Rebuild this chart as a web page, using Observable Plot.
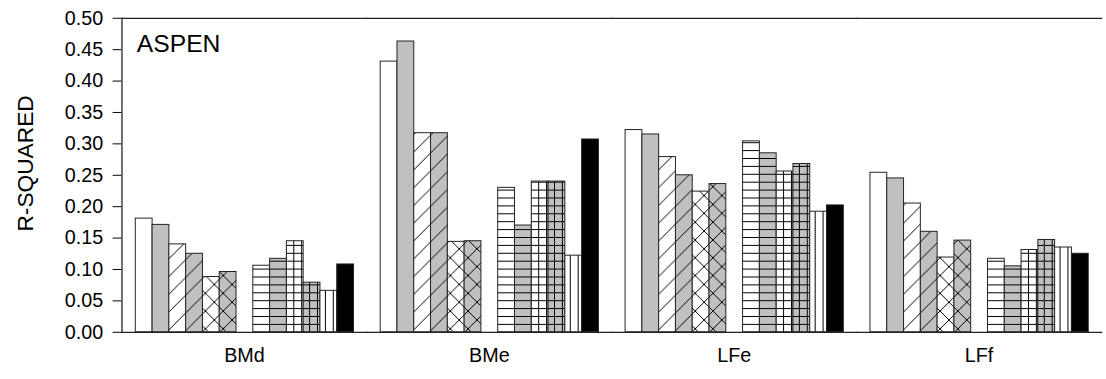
<!DOCTYPE html>
<html><head><meta charset="utf-8">
<script src="https://cdn.jsdelivr.net/npm/d3@7"></script>
<script src="https://cdn.jsdelivr.net/npm/@observablehq/plot@0.6"></script>
<style>
html,body{margin:0;padding:0;overflow:hidden;background:#fff;}
</style>
</head><body><div id="chart"></div>
<script>
// ---- data ----
const groups = ["BMd", "BMe", "LFe", "LFf"];
const series = ["s1","s2","s3","s4","s5","s6","s7","s8","s9","s10","s11","s12"];
const slots = ["s1","s2","s3","s4","s5","s6","gap","s7","s8","s9","s10","s11","s12"];
const BMd = [0.181, 0.171, 0.140, 0.125, 0.088, 0.096, 0.106, 0.117, 0.145, 0.079, 0.066, 0.108];
const BMe = [0.431, 0.463, 0.317, 0.317, 0.144, 0.145, 0.230, 0.170, 0.240, 0.240, 0.122, 0.307];
const LFe = [0.322, 0.315, 0.279, 0.250, 0.224, 0.236, 0.304, 0.285, 0.256, 0.268, 0.192, 0.202];
const LFf = [0.254, 0.245, 0.205, 0.160, 0.119, 0.146, 0.117, 0.105, 0.131, 0.147, 0.135, 0.125];
const yTicks = [0, 0.05, 0.10, 0.15, 0.20, 0.25, 0.30, 0.35, 0.40, 0.45, 0.50];
const panelTitle = ["ASPEN"];
const yLabel = ["R-SQUARED"];
// fills per series (style)
const seriesFill = ["white", "#c0c0c0", "url(#diagW)", "url(#diagG)", "url(#crossW)", "url(#crossG)",
  "url(#horizW)", "url(#horizG)", "url(#gridW)", "url(#gridG)", "url(#vertW)", "black"];

const valuesByGroup = {BMd, BMe, LFe, LFf};
const data = [];
for (const g of groups) {
  valuesByGroup[g].forEach((v, i) => data.push({group: g, series: series[i], value: v, fill: seriesFill[i]}));
}

// ---- pattern definitions ----
function patternDefs() {
  const defs = d3.create("svg:defs");
  const mk = (id, size, bg) => {
    const p = defs.append("pattern").attr("id", id).attr("patternUnits", "userSpaceOnUse")
      .attr("width", size).attr("height", size);
    p.append("rect").attr("width", size).attr("height", size).attr("fill", bg);
    return p;
  };
  const diag = (p, s) => p.append("path")
    .attr("d", `M0,${s}L${s},0M${-s/4},${s/4}L${s/4},${-s/4}M${s*3/4},${s*5/4}L${s*5/4},${s*3/4}`)
    .attr("stroke", "black").attr("stroke-width", 1).attr("fill", "none");
  const back = (p, s) => p.append("path")
    .attr("d", `M0,0L${s},${s}M${-s/4},${s*3/4}L${s/4},${s*5/4}M${s*3/4},${-s/4}L${s*5/4},${s/4}`)
    .attr("stroke", "black").attr("stroke-width", 1).attr("fill", "none");
  const horiz = (p, s) => p.append("rect").attr("x", 0).attr("y", 0).attr("width", s).attr("height", 1).attr("fill", "black");
  const vert = (p, s) => p.append("rect").attr("x", 0).attr("y", 0).attr("width", 1).attr("height", s).attr("fill", "black");
  for (const [suffix, bg] of [["W", "white"], ["G", "#c0c0c0"]]) {
    diag(mk("diag" + suffix, 18, bg), 18);
    const c = mk("cross" + suffix, 18, bg); diag(c, 18); back(c, 18);
    horiz(mk("horiz" + suffix, 8, bg), 8);
    const gr = mk("grid" + suffix, 8, bg); horiz(gr, 8); vert(gr, 8);
    vert(mk("vert" + suffix, 8, bg), 8);
  }
  return defs.node();
}

const chart = Plot.plot({
  width: 1120,
  height: 379,
  marginLeft: 122,
  marginRight: 4,
  marginTop: 18,
  marginBottom: 43,
  style: {fontFamily: "Arial, 'Liberation Sans', Helvetica, sans-serif", fontSize: "20px", color: "black", background: "white", overflow: "visible"},
  fx: {domain: groups, padding: 0, label: null, axis: "bottom", tickSize: 0, tickPadding: 16},
  x: {domain: slots, paddingInner: 0, paddingOuter: 0.695, axis: null},
  y: {domain: [0, 0.5], ticks: yTicks, tickFormat: d3.format(".2f"), label: null, tickSize: 9, tickPadding: 10},
  color: {type: "identity"},
  marks: [
    patternDefs,
    Plot.barY(data, {fx: "group", x: "series", y: "value", fill: "fill", stroke: "#222", strokeWidth: 1}),
    Plot.frame({anchor: "top", stroke: "#222", strokeWidth: 1.3}),
    Plot.frame({anchor: "bottom", stroke: "#222", strokeWidth: 1.3}),
    Plot.frame({anchor: "left", stroke: "#222", strokeWidth: 1.3, facetAnchor: "left"}),
    Plot.text(panelTitle, {frameAnchor: "top-left", textAnchor: "start", lineAnchor: "top", dx: 15, dy: 16, fontSize: 25, facetAnchor: "left"}),
    Plot.text(yLabel, {frameAnchor: "left", rotate: -90, textAnchor: "middle", lineAnchor: "middle", dx: -97, dy: -12, fontSize: 23, facetAnchor: "left"})
  ]
});
document.getElementById("chart").appendChild(chart);
</script>
</body></html>
